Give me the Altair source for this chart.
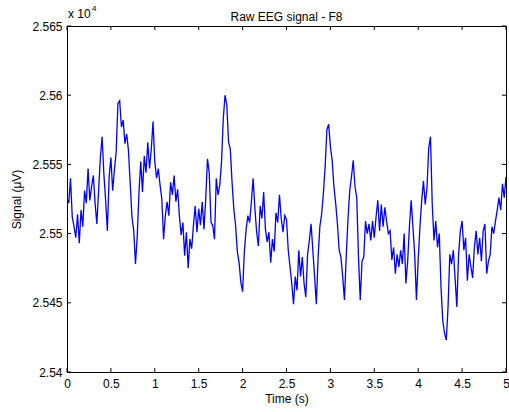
import altair as alt
import numpy as np
import pandas as pd

signal = [
    25526, 25522, 25540, 25512, 25505, 25497, 25514, 25493, 25517, 25505,
    25531, 25522, 25547, 25524, 25534, 25542, 25522, 25507, 25531, 25555,
    25570, 25543, 25524, 25502, 25541, 25555, 25531, 25546, 25559, 25594,
    25596, 25577, 25582, 25565, 25572, 25560, 25536, 25512, 25502, 25478,
    25498, 25530, 25552, 25530, 25556, 25544, 25566, 25547, 25561, 25581,
    25552, 25540, 25547, 25535, 25525, 25496, 25513, 25523, 25513, 25537,
    25528, 25542, 25523, 25532, 25513, 25499, 25508, 25484, 25501, 25475,
    25496, 25489, 25506, 25520, 25501, 25518, 25506, 25523, 25503, 25525,
    25554, 25544, 25508, 25506, 25496, 25540, 25528, 25535, 25552, 25583,
    25600, 25593, 25566, 25561, 25537, 25518, 25506, 25487, 25479, 25465,
    25458, 25487, 25503, 25513, 25508, 25523, 25540, 25518, 25501, 25491,
    25520, 25511, 25530, 25503, 25494, 25501, 25479, 25496, 25487, 25515,
    25508, 25528, 25511, 25501, 25513, 25510, 25488, 25476, 25464, 25449,
    25469, 25459, 25488, 25469, 25483, 25464, 25454, 25485, 25495, 25507,
    25488, 25469, 25449, 25483, 25505, 25514, 25529, 25548, 25575, 25579,
    25563, 25553, 25534, 25522, 25507, 25488, 25483, 25469, 25452, 25483,
    25510, 25531, 25541, 25553, 25534, 25526, 25483, 25452, 25480, 25483,
    25509, 25500, 25507, 25495, 25509, 25497, 25512, 25524, 25502, 25521,
    25505, 25519, 25509, 25500, 25502, 25481, 25490, 25471, 25485, 25476,
    25488, 25478, 25500, 25464, 25480, 25505, 25524, 25505, 25485, 25452,
    25481, 25505, 25524, 25538, 25521, 25533, 25562, 25570, 25521, 25495,
    25509, 25490, 25500, 25461, 25437, 25428, 25423, 25447, 25485, 25478,
    25488, 25468, 25447, 25485, 25502, 25509, 25488, 25497, 25466, 25485,
    25476, 25468, 25490, 25502, 25485, 25497, 25480, 25502, 25507, 25471,
    25480, 25485, 25505, 25500, 25509, 25517, 25526, 25517, 25536, 25526,
    25541,
]
sample_step = 0.02
times = np.round(np.arange(len(signal)) * sample_step, 2)

x_ticks = [0, 0.5, 1, 1.5, 2, 2.5, 3, 3.5, 4, 4.5, 5]
y_ticks = [25400, 25450, 25500, 25550, 25600, 25650]

title_text = "Raw EEG signal - F8"
x_title = "Time (s)"
y_title = "Signal (\u03bcV)"
exp_base = "x 10"
exp_power = "4"

FONT = "Liberation Sans"
W, H = 439, 346
TL = 4

df = pd.DataFrame({"t": times, "v": signal})
xdf = pd.DataFrame({"t": x_ticks})
ydf = pd.DataFrame({"v": y_ticks})

xscale = alt.Scale(domain=[0, 5], nice=False, zero=False)
yscale = alt.Scale(domain=[25400, 25650], nice=False, zero=False)

xaxis = alt.Axis(values=x_ticks, title=x_title, grid=False, tickSize=0,
                 labelExpr="format(datum.value, '~g')",
                 labelPadding=6, titlePadding=4, labelFlush=False,
                 labelFontSize=12, titleFontSize=12, labelFont=FONT, titleFont=FONT,
                 titleFontWeight="normal", labelColor="black", titleColor="black",
                 domainColor="black")
yaxis = alt.Axis(values=y_ticks, title=y_title, grid=False, tickSize=0,
                 labelExpr="format(datum.value/10000, '~g')",
                 labelPadding=5, titlePadding=8, labelFlush=False,
                 labelFontSize=12, titleFontSize=12, labelFont=FONT, titleFont=FONT,
                 titleFontWeight="normal", labelColor="black", titleColor="black",
                 domainColor="black")

line = alt.Chart(df).mark_line(color="#0000ff", strokeWidth=1.3, clip=True).encode(
    x=alt.X("t:Q", scale=xscale, axis=xaxis),
    y=alt.Y("v:Q", scale=yscale, axis=yaxis),
)

xt_bottom = alt.Chart(xdf).mark_rule(color="black", strokeWidth=1).encode(
    x=alt.X("t:Q", scale=xscale, axis=xaxis), y=alt.value(H), y2=alt.value(H - TL))
xt_top = alt.Chart(xdf).mark_rule(color="black", strokeWidth=1).encode(
    x=alt.X("t:Q", scale=xscale, axis=xaxis), y=alt.value(0), y2=alt.value(TL))
yt_left = alt.Chart(ydf).mark_rule(color="black", strokeWidth=1).encode(
    y=alt.Y("v:Q", scale=yscale, axis=yaxis), x=alt.value(0), x2=alt.value(TL))
yt_right = alt.Chart(ydf).mark_rule(color="black", strokeWidth=1).encode(
    y=alt.Y("v:Q", scale=yscale, axis=yaxis), x=alt.value(W), x2=alt.value(W - TL))

title_mark = alt.Chart(pd.DataFrame({"s": [title_text]})).mark_text(
    align="center", baseline="alphabetic", fontSize=12, font=FONT, color="black").encode(
    x=alt.value(W / 2), y=alt.value(-5), text="s:N")
exp1 = alt.Chart(pd.DataFrame({"s": [exp_base]})).mark_text(
    align="left", baseline="alphabetic", fontSize=12, font=FONT, color="black").encode(
    x=alt.value(1), y=alt.value(-8), text="s:N")
exp2 = alt.Chart(pd.DataFrame({"s": [exp_power]})).mark_text(
    align="left", baseline="alphabetic", fontSize=8, font=FONT, color="black").encode(
    x=alt.value(25), y=alt.value(-15), text="s:N")

chart = alt.layer(line, xt_bottom, xt_top, yt_left, yt_right, title_mark, exp1, exp2).properties(
    width=W, height=H,
    autosize=alt.AutoSizeParams(type="none"),
    padding={"left": 67, "top": 26, "right": 3, "bottom": 40},
    background="white",
).configure_view(stroke="black", strokeWidth=1)

chart.save("out.html", embed_options={"renderer": "svg", "actions": False})
